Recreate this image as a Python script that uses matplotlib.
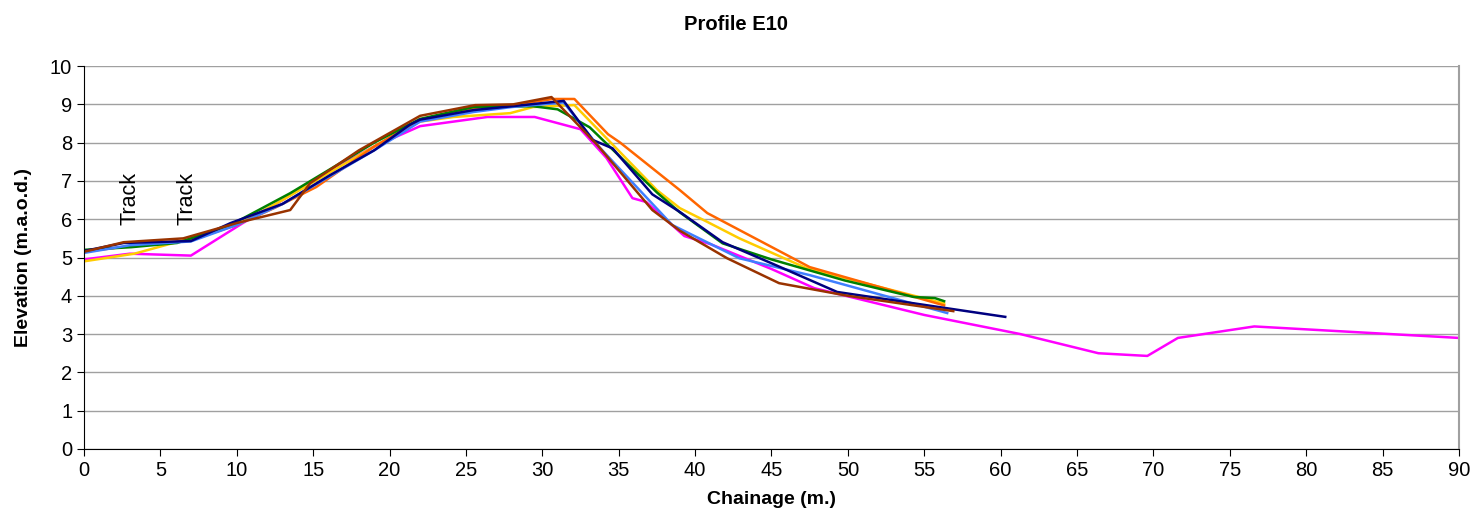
import matplotlib.pyplot as plt

plt.rcParams['font.family'] = ['Liberation Sans', 'DejaVu Sans']

# profile surveys (chainage m, elevation m.a.o.d.)
x_magenta = [0, 3, 7, 10.4, 13, 16, 19, 22, 26.4, 29.5, 32.5, 34.2, 35.9, 36.8, 39.3, 41, 45, 47.8, 55, 61.3, 66.4, 69.6, 71.6, 76.6, 90]
y_magenta = [4.95, 5.1, 5.05, 5.9, 6.5, 7.25, 7.9, 8.43, 8.67, 8.67, 8.35, 7.6, 6.55, 6.45, 5.56, 5.35, 4.7, 4.2, 3.5, 3.0, 2.5, 2.43, 2.9, 3.2, 2.9]

x_yellow = [0, 3.3, 6.5, 10, 13, 16, 19, 22, 24.2, 27.9, 29.4, 32.1, 37.5, 39, 40.8, 42.9, 47.3, 56.3]
y_yellow = [4.9, 5.1, 5.45, 5.85, 6.5, 7.2, 7.9, 8.55, 8.67, 8.77, 8.93, 8.98, 6.76, 6.29, 5.93, 5.5, 4.72, 3.8]

x_orange = [0, 3, 7, 10, 12.5, 15.2, 19, 22, 25.5, 28, 30.7, 32.1, 34.3, 35.1, 39, 40.8, 47.5, 56.3]
y_orange = [5.15, 5.3, 5.45, 5.85, 6.3, 6.84, 7.9, 8.6, 8.9, 8.98, 9.14, 9.14, 8.22, 8.0, 6.76, 6.16, 4.75, 3.75]

x_green = [0, 3.1, 6.1, 9.6, 13.5, 16.5, 19, 22, 25.5, 29.4, 31, 33.1, 37.5, 39, 41.8, 45, 49.8, 54.3, 55.7, 56.3]
y_green = [5.2, 5.27, 5.38, 5.85, 6.68, 7.4, 8.0, 8.62, 8.93, 8.95, 8.87, 8.4, 6.7, 6.18, 5.37, 4.95, 4.4, 3.97, 3.94, 3.86]

x_blue = [0, 3, 7, 10, 13, 16, 19, 22, 25.5, 28, 31.4, 33.6, 38.5, 42.9, 47.5, 56.5]
y_blue = [5.12, 5.32, 5.42, 5.85, 6.4, 7.1, 7.8, 8.55, 8.8, 8.93, 9.05, 7.94, 5.85, 4.98, 4.54, 3.55]

x_navy = [0, 2.6, 7, 9.6, 13, 16.1, 19, 21.3, 22, 25.5, 28, 31.4, 33.3, 34.6, 37.2, 39, 41.8, 45, 49.3, 60.3]
y_navy = [5.17, 5.38, 5.43, 5.9, 6.4, 7.15, 7.8, 8.46, 8.6, 8.85, 8.95, 9.09, 8.07, 7.85, 6.65, 6.19, 5.4, 4.85, 4.1, 3.45]

x_brown = [0, 2.6, 6.5, 10, 13.5, 14.8, 18, 22, 25.6, 28.1, 30.6, 33.6, 37.2, 39, 42.1, 45.5, 50, 56.9]
y_brown = [5.15, 5.4, 5.5, 5.9, 6.24, 6.94, 7.8, 8.7, 8.98, 9.0, 9.19, 7.94, 6.24, 5.7, 4.98, 4.33, 4.0, 3.6]

series = [
    (x_magenta, y_magenta, '#FF00FF'),
    (x_yellow, y_yellow, '#FFCC00'),
    (x_orange, y_orange, '#FF6600'),
    (x_green, y_green, '#008000'),
    (x_blue, y_blue, '#3F7FFF'),
    (x_navy, y_navy, '#000080'),
    (x_brown, y_brown, '#993300'),
]

fig = plt.figure(figsize=(14.73, 5.14), dpi=100)
ax = fig.add_axes([0.057, 0.1265, 0.9335, 0.745])

for xs, ys, c in series:
    ax.plot(xs, ys, color=c, linewidth=1.8)

ax.set_xlim(0, 90)
ax.set_ylim(0, 10)
ax.set_xticks(range(0, 91, 5))
ax.set_yticks(range(0, 11))
ax.yaxis.grid(True, color='#A0A0A0', linewidth=1.0)
ax.set_axisbelow(True)

ax.spines['top'].set_visible(False)
ax.spines['right'].set_color('#A0A0A0')
ax.spines['right'].set_linewidth(1.5)
ax.spines['left'].set_color('black')
ax.spines['bottom'].set_color('black')
ax.tick_params(axis='both', direction='out', length=5, labelsize=14.5, colors='black')

ax.text(3.0, 5.85, 'Track', rotation=90, ha='center', va='bottom', fontsize=15.5)
ax.text(6.75, 5.85, 'Track', rotation=90, ha='center', va='bottom', fontsize=15.5)

ax.set_xlabel('Chainage (m.)', fontsize=14, fontweight='bold', labelpad=8)
ax.set_ylabel('Elevation (m.a.o.d.)', fontsize=14, fontweight='bold', labelpad=13)
fig.suptitle('Profile E10', fontsize=14.5, fontweight='bold', y=0.97)

plt.savefig('out.png', dpi=100)
